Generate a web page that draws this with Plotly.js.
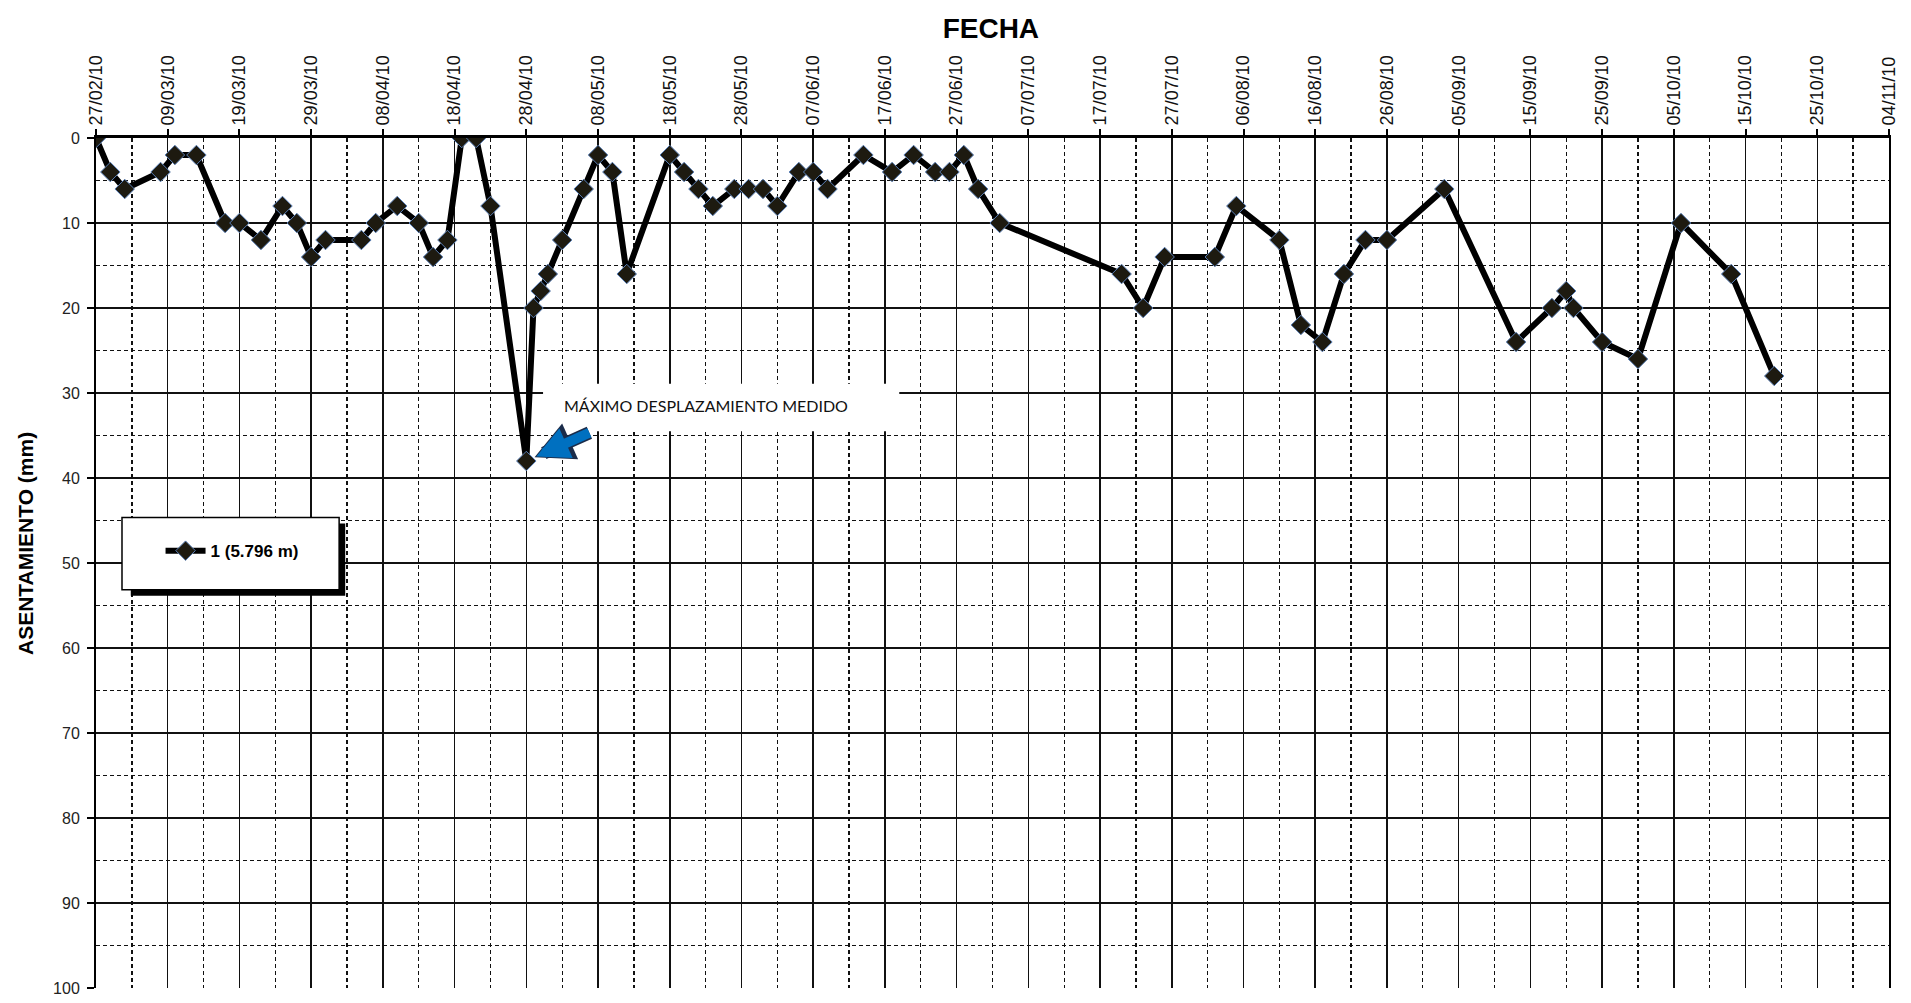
<!DOCTYPE html>
<html>
<head>
<meta charset="utf-8">
<script src="https://cdn.plot.ly/plotly-3.0.1.min.js"></script>
<style>
html,body{margin:0;padding:0;background:#fff;}
#chart{width:1911px;height:1003px;}
</style>
</head>
<body>
<div id="chart"></div>
<script>
// ---- data ----
const seriesName = '1 (5.796 m)';
const fechas = ['2010-02-27','2010-03-01','2010-03-03','2010-03-08','2010-03-10','2010-03-13','2010-03-17','2010-03-19','2010-03-22','2010-03-25',
  '2010-03-27','2010-03-29','2010-03-31','2010-04-05','2010-04-07','2010-04-10','2010-04-13','2010-04-15','2010-04-17','2010-04-19',
  '2010-04-21','2010-04-23','2010-04-28','2010-04-29','2010-04-30','2010-05-01','2010-05-03','2010-05-06','2010-05-08','2010-05-10',
  '2010-05-12','2010-05-18','2010-05-20','2010-05-22','2010-05-24','2010-05-27','2010-05-29','2010-05-31','2010-06-02','2010-06-05',
  '2010-06-07','2010-06-09','2010-06-14','2010-06-18','2010-06-21','2010-06-24','2010-06-26','2010-06-28','2010-06-30','2010-07-03',
  '2010-07-20','2010-07-23','2010-07-26','2010-08-02','2010-08-05','2010-08-11','2010-08-14','2010-08-17','2010-08-20','2010-08-23',
  '2010-08-26','2010-09-03','2010-09-13','2010-09-18','2010-09-20','2010-09-21','2010-09-25','2010-09-30','2010-10-06','2010-10-13',
  '2010-10-19'];
const asentamiento = [0,4,6,4,2,2,10,10,12,8,
  10,14,12,12,10,8,10,14,12,0,
  0,8,38,20,18,16,12,6,2,4,
  16,2,4,6,8,6,6,6,8,4,
  4,6,2,4,2,4,4,2,6,10,
  16,20,14,14,8,12,22,24,16,12,
  12,6,24,20,18,20,24,26,10,16,
  28];
const tickDates = ['2010-02-27','2010-03-09','2010-03-19','2010-03-29','2010-04-08','2010-04-18','2010-04-28','2010-05-08','2010-05-18',
  '2010-05-28','2010-06-07','2010-06-17','2010-06-27','2010-07-07','2010-07-17','2010-07-27','2010-08-06','2010-08-16','2010-08-26',
  '2010-09-05','2010-09-15','2010-09-25','2010-10-05','2010-10-15','2010-10-25','2010-11-04'];
const tickLabels = ['27/02/10','09/03/10','19/03/10','29/03/10','08/04/10','18/04/10','28/04/10','08/05/10','18/05/10',
  '28/05/10','07/06/10','17/06/10','27/06/10','07/07/10','17/07/10','27/07/10','06/08/10','16/08/10','26/08/10',
  '05/09/10','15/09/10','25/09/10','05/10/10','15/10/10','25/10/10','04/11/10'];
const yTicks = [0,10,20,30,40,50,60,70,80,90,100];
const yTitle = 'ASENTAMIENTO (mm)';
const maxLabel = 'MÁXIMO DESPLAZAMIENTO MEDIDO';
const maxIndex = asentamiento.indexOf(Math.max(...asentamiento));

const DAY = 86400000;

const trace = {
  x: fechas, y: asentamiento, name: seriesName,
  type: 'scatter', mode: 'lines+markers',
  line: {color: '#000000', width: 6},
  marker: {symbol: 'diamond', size: 15, color: '#1d1a10', line: {color: '#5a7fb5', width: 1}},
  showlegend: true
};

const gridCol = '#111';
const layout = {
  width: 1911, height: 1003,
  margin: {l: 96, r: 22, t: 138, b: 15},
  paper_bgcolor: '#fff', plot_bgcolor: '#fff',
  font: {family: 'Liberation Sans, Arial, sans-serif', color: '#111'},
  title: {text: '<b>FECHA</b>', font: {size: 28, family: 'Liberation Sans, Arial, sans-serif', color: '#000'},
          x: 0.5185, xanchor: 'center', y: 0.982, yanchor: 'top', xref: 'container', yref: 'container'},
  xaxis: {
    type: 'date', side: 'top',
    range: [tickDates[0], tickDates[tickDates.length - 1]],
    tickmode: 'array', tickvals: tickDates, ticktext: tickLabels,
    tickangle: -90, tickfont: {size: 18, color: '#111'},
    ticks: 'outside', ticklen: 6, tickwidth: 2, tickcolor: '#000',
    showline: true, linecolor: '#000', linewidth: 3,
    showgrid: true, gridcolor: gridCol, gridwidth: 1.5,
    minor: {tickmode: 'linear', tick0: '2010-03-04', dtick: 5 * DAY, showgrid: true,
            gridcolor: gridCol, gridwidth: 1.3, griddash: '4px,3px', ticks: ''},
    zeroline: false, fixedrange: true
  },
  yaxis: {
    range: [100, 0], tickmode: 'array', tickvals: yTicks,
    tickfont: {size: 16, color: '#222'},
    ticks: 'outside', ticklen: 7, tickwidth: 1.5, tickcolor: '#000',
    ticklabelstandoff: 4,
    showline: true, linecolor: '#000', linewidth: 2, mirror: true,
    showgrid: true, gridcolor: gridCol, gridwidth: 1.5,
    minor: {tickmode: 'linear', tick0: 5, dtick: 10, showgrid: true,
            gridcolor: gridCol, gridwidth: 1.3, griddash: '4px,3px', ticks: ''},
    zeroline: false, fixedrange: true
  },
  showlegend: true,
  legend: {x: 0.036, xanchor: 'left', y: 0.514, yanchor: 'middle', bgcolor: 'rgba(0,0,0,0)', borderwidth: 0,
           font: {size: 17, family: 'Liberation Sans, Arial, sans-serif', color: '#000', weight: 'bold'},
           itemwidth: 40},
  shapes: [
    // white label box covering the grid
    {type: 'rect', xref: 'x', yref: 'y', x0: '2010-04-30 08:00', x1: '2010-06-19', y0: 28.9, y1: 34.5,
     fillcolor: '#fff', line: {width: 0}, layer: 'between'},
    // legend shadow and box
    {type: 'rect', xref: 'paper', yref: 'paper', x0: 0.0194, x1: 0.1390, y0: 0.4615, y1: 0.5465,
     fillcolor: '#000', line: {width: 0}, layer: 'above'},
    {type: 'rect', xref: 'paper', yref: 'paper', x0: 0.0145, x1: 0.1356, y0: 0.4685, y1: 0.5535,
     fillcolor: '#fff', line: {color: '#000', width: 1.5}, layer: 'above'}
  ],
  annotations: [
    // y axis title
    {x: -0.0396, y: 0.5235, xref: 'paper', yref: 'paper', text: '<b>' + yTitle + '</b>', textangle: -90,
     showarrow: false, xanchor: 'center', yanchor: 'middle',
     font: {size: 21, family: 'Liberation Sans, Arial, sans-serif', color: '#000'}},
    {x: '2010-05-03', y: 31.5, xref: 'x', yref: 'y', text: maxLabel, showarrow: false,
     xanchor: 'left', yanchor: 'middle', font: {family: 'Lato, Open Sans, sans-serif', size: 16, color: '#111'}},
    // arrow outline
    {x: fechas[maxIndex], y: asentamiento[maxIndex], xref: 'x', yref: 'y', axref: 'x', ayref: 'y',
     ax: '2010-05-07', ay: 34.6, text: '', showarrow: true, arrowhead: 2, arrowsize: 0.6, arrowwidth: 13,
     arrowcolor: '#1b2c4a', standoff: 9},
    // arrow fill
    {x: fechas[maxIndex], y: asentamiento[maxIndex], xref: 'x', yref: 'y', axref: 'x', ayref: 'y',
     ax: '2010-05-07', ay: 34.6, text: '', showarrow: true, arrowhead: 2, arrowsize: 0.65, arrowwidth: 10,
     arrowcolor: '#0070c0', standoff: 11}
  ]
};

Plotly.newPlot('chart', [trace], layout, {displayModeBar: false, staticPlot: true});
</script>
</body>
</html>
